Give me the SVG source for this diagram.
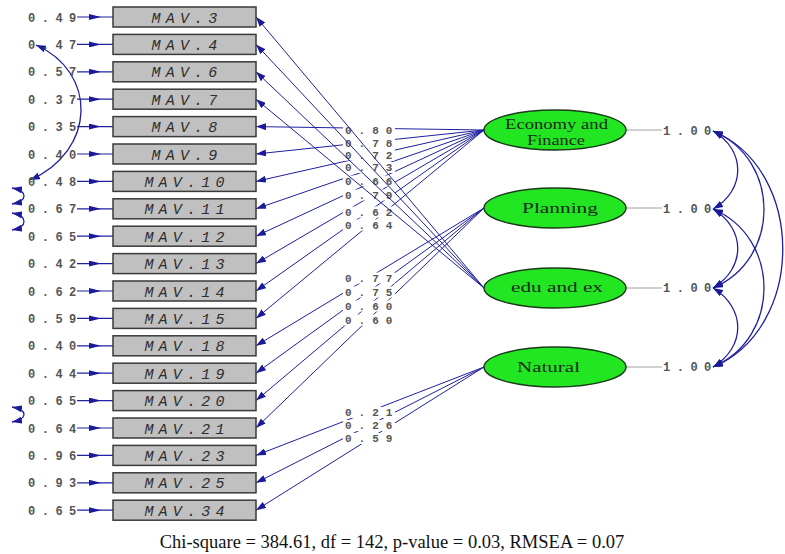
<svg xmlns="http://www.w3.org/2000/svg" width="785" height="554" viewBox="0 0 785 554">
<style>
.box{fill:#c0c0c0;stroke:#3a3a3a;stroke-width:1.5}
.bt{font-family:"Liberation Mono",monospace;font-style:italic;font-size:15px;letter-spacing:5.2px;fill:#2e2e2e;text-anchor:middle}
.num{font-family:"Liberation Mono",monospace;font-size:12px;letter-spacing:6.5px;fill:#555555;font-weight:bold}
.lnum{font-family:"Liberation Mono",monospace;font-size:11px;letter-spacing:7px;fill:#555555;font-weight:bold}
.ld{stroke:#2020a0;stroke-width:1;fill:none;marker-end:url(#ah)}
.cv{stroke:#2020a0;stroke-width:1.3;fill:none;marker-start:url(#ah);marker-end:url(#ah)}
.er{stroke:#2020a0;stroke-width:1.2;fill:none;marker-mid:url(#sa)}
.ell{fill:#22e622;stroke:#1a3a1a;stroke-width:1.5}
.et{font-family:"Liberation Serif",serif;font-size:15px;fill:#1a2a1a}
.lbg{fill:#ffffff}
.var{stroke:#a0a0a0;stroke-width:1}
</style>
<defs>
<marker id="ah" viewBox="0 0 10 7" refX="10" refY="3.5" markerWidth="10" markerHeight="7" markerUnits="userSpaceOnUse" orient="auto-start-reverse"><path d="M0,0 L10,3.5 L0,7 z" fill="#1a1a9a"/></marker>
<marker id="sa" viewBox="0 0 12 6" refX="12" refY="3" markerWidth="12" markerHeight="6" markerUnits="userSpaceOnUse" orient="auto"><path d="M0,0 L12,3 L0,6 z" fill="#1a1a9a"/></marker>
</defs>
<rect width="785" height="554" fill="#ffffff"/>

<g id="connectors">
<path class="er" d="M77,17 L101,17 L113,17"/>
<path class="er" d="M77,44.4 L101,44.4 L113,44.4"/>
<path class="er" d="M77,71.8 L101,71.8 L113,71.8"/>
<path class="er" d="M77,99.2 L101,99.2 L113,99.2"/>
<path class="er" d="M77,126.6 L101,126.6 L113,126.6"/>
<path class="er" d="M77,154 L101,154 L113,154"/>
<path class="er" d="M77,181.4 L101,181.4 L113,181.4"/>
<path class="er" d="M77,208.8 L101,208.8 L113,208.8"/>
<path class="er" d="M77,236.2 L101,236.2 L113,236.2"/>
<path class="er" d="M77,263.6 L101,263.6 L113,263.6"/>
<path class="er" d="M77,291 L101,291 L113,291"/>
<path class="er" d="M77,318.4 L101,318.4 L113,318.4"/>
<path class="er" d="M77,345.8 L101,345.8 L113,345.8"/>
<path class="er" d="M77,373.2 L101,373.2 L113,373.2"/>
<path class="er" d="M77,400.6 L101,400.6 L113,400.6"/>
<path class="er" d="M77,428 L101,428 L113,428"/>
<path class="er" d="M77,455.4 L101,455.4 L113,455.4"/>
<path class="er" d="M77,482.8 L101,482.8 L113,482.8"/>
<path class="er" d="M77,510.2 L101,510.2 L113,510.2"/>
<path class="cv" d="M36,45 C97,72 97,150 30,180"/>
<path class="cv" d="M12,188 C28,191 28,201 12,204"/>
<path class="cv" d="M12,213 C28,216 28,227 12,230"/>
<path class="cv" d="M12,407 C28,410 28,419 12,422"/>
<line class="ld" x1="484" y1="130" x2="256" y2="126.6"/>
<line class="ld" x1="484" y1="130" x2="256" y2="154"/>
<line class="ld" x1="484" y1="130" x2="256" y2="181.4"/>
<line class="ld" x1="484" y1="130" x2="256" y2="208.8"/>
<line class="ld" x1="484" y1="130" x2="256" y2="236.2"/>
<line class="ld" x1="484" y1="130" x2="256" y2="263.6"/>
<line class="ld" x1="484" y1="130" x2="256" y2="291"/>
<line class="ld" x1="484" y1="130" x2="256" y2="318.4"/>
<line class="ld" x1="484" y1="208" x2="256" y2="345.8"/>
<line class="ld" x1="484" y1="208" x2="256" y2="373.2"/>
<line class="ld" x1="484" y1="208" x2="256" y2="400.6"/>
<line class="ld" x1="484" y1="208" x2="256" y2="428"/>
<line class="ld" x1="484" y1="367" x2="256" y2="455.4"/>
<line class="ld" x1="484" y1="367" x2="256" y2="482.8"/>
<line class="ld" x1="484" y1="367" x2="256" y2="510.2"/>
<line class="var" x1="626" y1="130" x2="662" y2="130"/>
<line class="var" x1="626" y1="208" x2="662" y2="208"/>
<line class="var" x1="626" y1="288" x2="662" y2="288"/>
<line class="var" x1="626" y1="367" x2="662" y2="367"/>
<path class="cv" d="M713,131 C746,150 746,190 713,209"/>
<path class="cv" d="M713,209 C746,229 746,268 713,288"/>
<path class="cv" d="M713,288 C746,308 746,347 713,367"/>
<path class="cv" d="M713,131 C781,160 781,259 713,288"/>
<path class="cv" d="M713,209 C781,238 781,338 713,367"/>
<path class="cv" d="M713,131 C806,170 806,328 713,367"/>
</g>

<g id="loading-labels">
<rect class="lbg" x="343" y="125" width="52" height="11"/>
<text class="lnum" x="345" y="134">0.80</text>
<rect class="lbg" x="343" y="137.5" width="52" height="11"/>
<text class="lnum" x="345" y="146.5">0.78</text>
<rect class="lbg" x="343" y="149.5" width="52" height="11"/>
<text class="lnum" x="345" y="158.5">0.72</text>
<rect class="lbg" x="343" y="162" width="52" height="11"/>
<text class="lnum" x="345" y="171">0.73</text>
<rect class="lbg" x="343" y="175.5" width="52" height="11"/>
<text class="lnum" x="345" y="184.5">0.66</text>
<rect class="lbg" x="343" y="189.5" width="52" height="11"/>
<text class="lnum" x="345" y="198.5">0.79</text>
<rect class="lbg" x="343" y="206.5" width="52" height="11"/>
<text class="lnum" x="345" y="215.5">0.62</text>
<rect class="lbg" x="343" y="219.5" width="52" height="11"/>
<text class="lnum" x="345" y="228.5">0.64</text>
<rect class="lbg" x="343" y="272.5" width="52" height="11"/>
<text class="lnum" x="345" y="281.5">0.77</text>
<rect class="lbg" x="343" y="286.5" width="52" height="11"/>
<text class="lnum" x="345" y="295.5">0.75</text>
<rect class="lbg" x="343" y="300.5" width="52" height="11"/>
<text class="lnum" x="345" y="309.5">0.60</text>
<rect class="lbg" x="343" y="314.5" width="52" height="11"/>
<text class="lnum" x="345" y="323.5">0.60</text>
<rect class="lbg" x="343" y="407" width="52" height="11"/>
<text class="lnum" x="345" y="416">0.21</text>
<rect class="lbg" x="343" y="420" width="52" height="11"/>
<text class="lnum" x="345" y="429">0.26</text>
<rect class="lbg" x="343" y="433" width="52" height="11"/>
<text class="lnum" x="345" y="442">0.59</text>
</g>

<g id="connectors-edu">
<line class="ld" x1="484" y1="288" x2="256" y2="17"/>
<line class="ld" x1="484" y1="288" x2="256" y2="44.4"/>
<line class="ld" x1="484" y1="288" x2="256" y2="71.8"/>
<line class="ld" x1="484" y1="288" x2="256" y2="99.2"/>
</g>

<g id="error-labels">
<text class="num" x="28" y="21.5">0.49</text>
<text class="num" x="28" y="48.9">0.47</text>
<text class="num" x="28" y="76.3">0.57</text>
<text class="num" x="28" y="103.7">0.37</text>
<text class="num" x="28" y="131.1">0.35</text>
<text class="num" x="28" y="158.5">0.40</text>
<text class="num" x="28" y="185.9">0.48</text>
<text class="num" x="28" y="213.3">0.67</text>
<text class="num" x="28" y="240.7">0.65</text>
<text class="num" x="28" y="268.1">0.42</text>
<text class="num" x="28" y="295.5">0.62</text>
<text class="num" x="28" y="322.9">0.59</text>
<text class="num" x="28" y="350.3">0.40</text>
<text class="num" x="28" y="377.7">0.44</text>
<text class="num" x="28" y="405.1">0.65</text>
<text class="num" x="28" y="432.5">0.64</text>
<text class="num" x="28" y="459.9">0.96</text>
<text class="num" x="28" y="487.3">0.93</text>
<text class="num" x="28" y="514.7">0.65</text>
</g>

<g id="mav3"><rect class="box" x="113" y="7" width="143" height="20"/><text class="bt" x="187" y="22.5">MAV.3</text></g>
<g id="mav4"><rect class="box" x="113" y="34.4" width="143" height="20"/><text class="bt" x="187" y="49.9">MAV.4</text></g>
<g id="mav6"><rect class="box" x="113" y="61.8" width="143" height="20"/><text class="bt" x="187" y="77.3">MAV.6</text></g>
<g id="mav7"><rect class="box" x="113" y="89.2" width="143" height="20"/><text class="bt" x="187" y="104.7">MAV.7</text></g>
<g id="mav8"><rect class="box" x="113" y="116.6" width="143" height="20"/><text class="bt" x="187" y="132.1">MAV.8</text></g>
<g id="mav9"><rect class="box" x="113" y="144" width="143" height="20"/><text class="bt" x="187" y="159.5">MAV.9</text></g>
<g id="mav10"><rect class="box" x="113" y="171.4" width="143" height="20"/><text class="bt" x="187" y="186.9">MAV.10</text></g>
<g id="mav11"><rect class="box" x="113" y="198.8" width="143" height="20"/><text class="bt" x="187" y="214.3">MAV.11</text></g>
<g id="mav12"><rect class="box" x="113" y="226.2" width="143" height="20"/><text class="bt" x="187" y="241.7">MAV.12</text></g>
<g id="mav13"><rect class="box" x="113" y="253.6" width="143" height="20"/><text class="bt" x="187" y="269.1">MAV.13</text></g>
<g id="mav14"><rect class="box" x="113" y="281" width="143" height="20"/><text class="bt" x="187" y="296.5">MAV.14</text></g>
<g id="mav15"><rect class="box" x="113" y="308.4" width="143" height="20"/><text class="bt" x="187" y="323.9">MAV.15</text></g>
<g id="mav18"><rect class="box" x="113" y="335.8" width="143" height="20"/><text class="bt" x="187" y="351.3">MAV.18</text></g>
<g id="mav19"><rect class="box" x="113" y="363.2" width="143" height="20"/><text class="bt" x="187" y="378.7">MAV.19</text></g>
<g id="mav20"><rect class="box" x="113" y="390.6" width="143" height="20"/><text class="bt" x="187" y="406.1">MAV.20</text></g>
<g id="mav21"><rect class="box" x="113" y="418" width="143" height="20"/><text class="bt" x="187" y="433.5">MAV.21</text></g>
<g id="mav23"><rect class="box" x="113" y="445.4" width="143" height="20"/><text class="bt" x="187" y="460.9">MAV.23</text></g>
<g id="mav25"><rect class="box" x="113" y="472.8" width="143" height="20"/><text class="bt" x="187" y="488.3">MAV.25</text></g>
<g id="mav34"><rect class="box" x="113" y="500.2" width="143" height="20"/><text class="bt" x="187" y="515.7">MAV.34</text></g>

<g id="economy"><ellipse class="ell" cx="555" cy="130" rx="71" ry="20"/><text class="et" x="505" y="129" textLength="103" lengthAdjust="spacingAndGlyphs">Economy and</text><text class="et" x="527" y="145" textLength="58" lengthAdjust="spacingAndGlyphs">Finance</text></g>
<g id="planning"><ellipse class="ell" cx="555" cy="208" rx="71" ry="20"/><text class="et" x="522" y="213" textLength="76" lengthAdjust="spacingAndGlyphs">Planning</text></g>
<g id="edu"><ellipse class="ell" cx="555" cy="288" rx="71" ry="20"/><text class="et" x="511" y="292" textLength="92" lengthAdjust="spacingAndGlyphs">edu and ex</text></g>
<g id="natural"><ellipse class="ell" cx="555" cy="367" rx="71" ry="20"/><text class="et" x="517" y="372" textLength="63" lengthAdjust="spacingAndGlyphs">Natural</text></g>

<g id="variance-labels">
<text class="num" x="663" y="134.5">1.00</text>
<text class="num" x="663" y="212.5">1.00</text>
<text class="num" x="663" y="292">1.00</text>
<text class="num" x="663" y="371">1.00</text>
</g>

<text x="392" y="548" font-family="Liberation Serif, serif" font-size="18.5" fill="#111" text-anchor="middle">Chi-square = 384.61, df = 142, p-value = 0.03, RMSEA = 0.07</text>
</svg>
